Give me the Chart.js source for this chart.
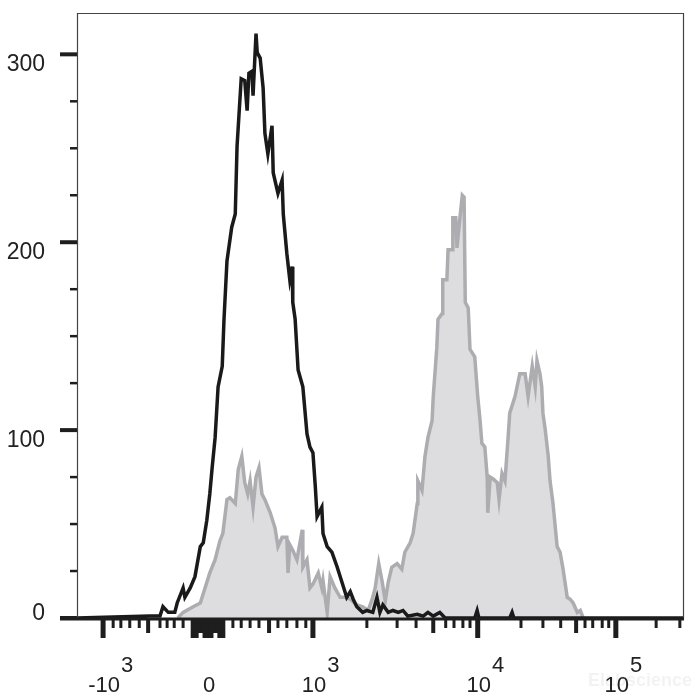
<!DOCTYPE html>
<html>
<head>
<meta charset="utf-8">
<script src="https://cdn.jsdelivr.net/npm/chart.js@4.4.1/dist/chart.umd.min.js"></script>
<style>
  body { margin: 0; background: #fff; }
  #wrap { width: 700px; height: 700px; }
</style>
</head>
<body>
<div id="wrap"><canvas id="histo"></canvas></div>
<script>
// x values are display channels (0-1024) of the biexponential axis
const blackX = [0,123,140,145,154,165,169,179,182,191,199,208,213,219,224,228,233,238,245,248,253,261,267,270,277,283,287,290,295,297,302,304,309,314,317,322,329,331,339,346,348,354,359,363,364,368,373,381,388,393,398,402,405,413,415,422,430,439,447,455,461,466,472,482,489,499,506,511,516,525,533,542,550,558,574,584,592,601,612,621,671,675,678,730,734,737,1024];
const blackY = [0,1,1,6,3,3,8,16,11,16,22,38,40,52,66,80,96,123,134,159,190,208,215,251,287,286,270,290,291,278,311,301,298,282,258,247,262,237,226,233,215,194,180,187,168,159,132,123,98,91,88,70,54,59,45,38,35,27,19,11,14,10,6,3,4,3,11,3,7,3,4,3,4,1,2,1,3,1,3,0,0,4,0,0,3,0,0];

const grayX = [170,179,196,208,216,224,233,241,246,253,258,267,272,278,283,288,292,297,302,307,312,317,326,334,339,346,354,356,359,364,371,380,381,388,393,398,407,413,415,422,427,435,444,452,461,472,482,491,498,503,509,515,520,525,531,540,548,553,562,567,574,575,582,587,592,599,601,607,609,616,617,624,626,633,634,639,641,646,650,653,655,660,663,671,676,680,683,688,692,693,697,702,709,712,717,722,727,730,739,747,756,761,768,773,776,781,784,786,790,795,798,803,810,815,820,827,832,837,844,849,854];
const grayY = [0,3,6,8,16,24,31,41,45,63,64,61,79,86,72,66,73,59,75,80,66,63,56,48,38,43,43,24,39,36,31,47,27,31,16,18,24,16,20,3,22,16,11,11,10,7,6,4,10,16,29,19,9,19,27,29,26,35,40,45,61,73,68,86,96,105,118,144,159,162,180,180,196,196,213,213,197,213,225,224,168,165,143,139,118,105,93,91,75,56,75,74,72,63,77,73,95,109,118,130,130,118,134,123,137,130,123,109,100,86,73,61,38,35,26,11,10,8,3,4,0];

// axis ticks
const yMajorTicks = [0, 100, 200, 300];
const yMinorTicks = [25, 50, 75, 125, 150, 175, 225, 250, 275];

const xLabelPos = [44, 221, 398, 676, 909];
const xLabelBase = ['-10', '0', '10', '10', '10'];
const xLabelExp = ['3', '', '3', '4', '5'];

const xMajorTicks = [44, 196, 201, 216, 221, 226, 241, 246, 398, 676, 909];
const xMediumTicks = [120, 206, 211, 231, 236, 324, 601, 842];
const xMinorTicks = [61, 74, 89, 105, 140, 152, 164, 179, 263, 277, 292, 307, 339, 354, 371, 386, 489, 540, 572, 622, 636, 651, 663, 749, 786, 816, 857, 870, 886, 897, 977, 1017];

const toPoints = (xs, ys) => xs.map((v, i) => ({ x: v, y: ys[i] }));

const flowAxes = {
    id: 'flowAxes',
    afterDraw(chart) {
        const { ctx, chartArea, scales } = chart;
        const x = scales.x;
        const y = scales.y;
        const left = chartArea.left, right = chartArea.right, top = chartArea.top, bottom = chartArea.bottom;
        ctx.save();

        // frame
        ctx.strokeStyle = '#444';
        ctx.lineWidth = 1.2;
        ctx.beginPath();
        ctx.moveTo(left + 0.5, bottom);
        ctx.lineTo(left + 0.5, top + 0.5);
        ctx.lineTo(right - 0.5, top + 0.5);
        ctx.lineTo(right - 0.5, bottom);
        ctx.stroke();

        // x axis line
        ctx.strokeStyle = '#1e1e1e';
        ctx.lineWidth = 3;
        ctx.beginPath();
        ctx.moveTo(left - 17, bottom + 1);
        ctx.lineTo(right, bottom + 1);
        ctx.stroke();

        // y ticks
        ctx.lineWidth = 4;
        yMajorTicks.forEach(v => {
            const py = y.getPixelForValue(v);
            ctx.beginPath();
            ctx.moveTo(left - 17, py);
            ctx.lineTo(left, py);
            ctx.stroke();
        });
        ctx.lineWidth = 2.5;
        yMinorTicks.forEach(v => {
            const py = y.getPixelForValue(v);
            ctx.beginPath();
            ctx.moveTo(left - 7, py);
            ctx.lineTo(left, py);
            ctx.stroke();
        });

        // x ticks
        const drawXTicks = (list, len, w) => {
            ctx.lineWidth = w;
            list.forEach(v => {
                const px = x.getPixelForValue(v);
                ctx.beginPath();
                ctx.moveTo(px, bottom + 1);
                ctx.lineTo(px, bottom + len);
                ctx.stroke();
            });
        };
        drawXTicks(xMinorTicks, 10, 3);
        drawXTicks(xMediumTicks, 15, 4);
        drawXTicks(xMajorTicks, 20, 5);

        // y labels
        ctx.fillStyle = '#222';
        ctx.font = '23px "Liberation Sans", Arial, sans-serif';
        ctx.textAlign = 'right';
        ctx.textBaseline = 'alphabetic';
        yMajorTicks.forEach(v => {
            const py = y.getPixelForValue(v);
            ctx.fillText(String(v), left - 32, v === 0 ? py + 2 : py + 17);
        });

        // x labels with superscripts
        ctx.font = '22px "Liberation Sans", Arial, sans-serif';
        ctx.textAlign = 'left';
        xLabelPos.forEach((v, i) => {
            const px = x.getPixelForValue(v) + 1;
            const w = ctx.measureText(xLabelBase[i]).width;
            ctx.fillText(xLabelBase[i], px - w / 2, 692);
            if (xLabelExp[i]) {
                ctx.fillText(xLabelExp[i], px + w / 2 + 1, 672);
            }
        });

        // faint watermark
        ctx.fillStyle = 'rgba(0,0,0,0.05)';
        ctx.font = 'bold 18px "Liberation Sans", Arial, sans-serif';
        ctx.fillText('Elabscience', 588, 686);

        ctx.restore();
    }
};

new Chart(document.getElementById('histo'), {
    type: 'line',
    data: {
        datasets: [
            {
                label: 'Stained',
                data: toPoints(grayX, grayY),
                borderColor: '#adacb0',
                backgroundColor: '#dddcde',
                borderWidth: 3.5,
                fill: 'origin',
                pointRadius: 0,
                tension: 0,
                order: 2
            },
            {
                label: 'Control',
                data: toPoints(blackX, blackY),
                borderColor: '#1a1a1a',
                borderWidth: 3.5,
                fill: false,
                pointRadius: 0,
                tension: 0,
                order: 1
            }
        ]
    },
    options: {
        responsive: true,
        maintainAspectRatio: false,
        animation: false,
        layout: { padding: { left: 77, top: 13, right: 16, bottom: 82 } },
        scales: {
            x: { type: 'linear', min: 0, max: 1024, display: false },
            y: { min: 0, max: 322, display: false }
        },
        plugins: {
            legend: { display: false },
            tooltip: { enabled: false }
        }
    },
    plugins: [flowAxes]
});
</script>
</body>
</html>
